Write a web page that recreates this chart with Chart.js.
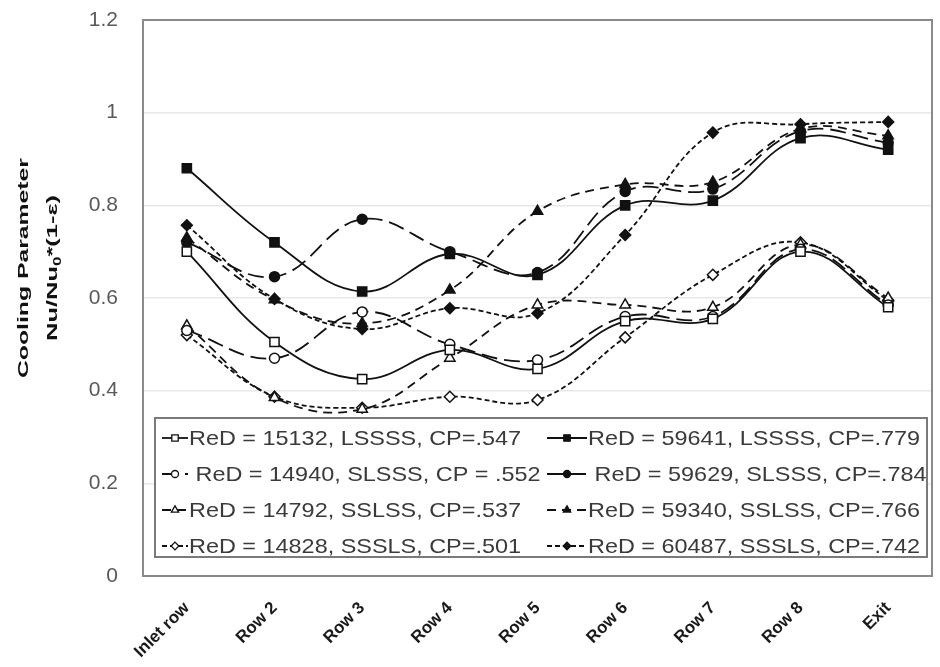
<!DOCTYPE html>
<html>
<head>
<meta charset="utf-8">
<script src="https://cdn.jsdelivr.net/npm/chart.js@4.4.1/dist/chart.umd.min.js"></script>
<style>
  html, body { margin: 0; padding: 0; background: #fff; }
  #wrap { width: 940px; height: 667px; position: relative; }
</style>
</head>
<body>
<div id="wrap"><canvas id="chart"></canvas></div>
<script>
// categories along the tube bank
const rows = ['Inlet row', 'Row 2', 'Row 3', 'Row 4', 'Row 5', 'Row 6', 'Row 7', 'Row 8', 'Exit'];

// low Reynolds number (~15000), open markers
const lowLSSSS = [0.70, 0.505, 0.425, 0.488, 0.447, 0.55, 0.555, 0.70, 0.58];
const lowSLSSS = [0.53, 0.47, 0.57, 0.50, 0.466, 0.56, 0.56, 0.705, 0.585];
const lowSSLSS = [0.54, 0.385, 0.36, 0.47, 0.585, 0.585, 0.58, 0.715, 0.60];
const lowSSSLS = [0.52, 0.387, 0.363, 0.387, 0.38, 0.515, 0.65, 0.72, 0.595];

// high Reynolds number (~60000), filled markers
const highLSSSS = [0.88, 0.72, 0.614, 0.695, 0.65, 0.80, 0.81, 0.945, 0.92];
const highSLSSS = [0.72, 0.646, 0.77, 0.70, 0.655, 0.83, 0.835, 0.96, 0.935];
const highSSLSS = [0.73, 0.596, 0.545, 0.617, 0.787, 0.845, 0.85, 0.965, 0.95];
const highSSSLS = [0.757, 0.598, 0.533, 0.578, 0.567, 0.736, 0.957, 0.975, 0.98];

const seriesLabels = [
  'ReD = 15132, LSSSS, CP=.547',
  ' ReD = 14940, SLSSS, CP = .552',
  'ReD = 14792, SSLSS, CP=.537',
  'ReD = 14828, SSSLS, CP=.501',
  'ReD = 59641, LSSSS, CP=.779',
  ' ReD = 59629, SLSSS, CP=.784',
  'ReD = 59340, SSLSS, CP=.766',
  'ReD = 60487, SSSLS, CP=.742'
];

const yTicks = [0, 0.2, 0.4, 0.6, 0.8, 1, 1.2];

// line style per layout (L position), shared by low and high Re
const styles = [
  { dash: [], point: 'rect', r: 6.5 },
  { dash: [16, 7], point: 'circle', r: 5 },
  { dash: [9, 6], point: 'triangle', r: 6 },
  { dash: [5, 3], point: 'rectRot', r: 5.5 }
];

const allData = [lowLSSSS, lowSLSSS, lowSSLSS, lowSSSLS, highLSSSS, highSLSSS, highSSLSS, highSSSLS];

const datasets = allData.map((d, i) => {
  const st = styles[i % 4];
  const filled = i >= 4;
  return {
    label: seriesLabels[i],
    data: d,
    borderColor: '#111',
    borderWidth: 1.8,
    borderDash: st.dash,
    tension: 0.4,
    fill: false,
    pointStyle: st.point,
    pointRadius: st.r,
    pointBorderWidth: 1.5,
    pointBorderColor: '#111',
    pointBackgroundColor: filled ? '#111' : '#fff'
  };
});

// draws plot frame, the in-plot legend and the two-line y title
const extras = {
  id: 'extras',
  afterDatasetsDraw(chart) {
    const ctx = chart.ctx;
    const a = chart.chartArea;
    ctx.save();

    // frame
    ctx.strokeStyle = '#8a8a8a';
    ctx.lineWidth = 2;
    ctx.setLineDash([]);
    ctx.strokeRect(a.left, a.top, a.right - a.left, a.bottom - a.top);

    // legend box
    const bx = a.left + 12, by = 418, bw = 772, bh = 139;
    ctx.fillStyle = '#fff';
    ctx.fillRect(bx, by, bw, bh);
    ctx.strokeStyle = '#7a7a7a';
    ctx.lineWidth = 2;
    ctx.strokeRect(bx, by, bw, bh);

    ctx.font = '21px "Liberation Sans", Arial, sans-serif';
    const sx = 332 / ctx.measureText(seriesLabels[0]).width;
    chart.data.datasets.forEach((ds, i) => {
      const col = i < 4 ? 0 : 1;
      const row = i % 4;
      const y = 438 + row * 36;
      const x0 = col === 0 ? 162 : 547;
      const w = col === 0 ? 26 : 40;
      const tx = col === 0 ? 189 : 588;

      ctx.strokeStyle = '#111';
      ctx.lineWidth = 1.8;
      ctx.setLineDash(ds.borderDash);
      ctx.beginPath();
      ctx.moveTo(x0, y);
      ctx.lineTo(x0 + w, y);
      ctx.stroke();
      ctx.setLineDash([]);

      ctx.fillStyle = ds.pointBackgroundColor;
      ctx.strokeStyle = '#111';
      ctx.lineWidth = 1.3;
      Chart.helpers.drawPoint(ctx, {
        pointStyle: ds.pointStyle, rotation: 0,
        radius: ds.pointRadius * 0.7, borderWidth: 1.3
      }, x0 + w / 2, y);

      ctx.save();
      ctx.translate(tx, y);
      ctx.scale(sx, 1);
      ctx.fillStyle = '#3a3a3a';
      ctx.textBaseline = 'middle';
      ctx.textAlign = 'left';
      ctx.fillText(ds.label, 0, 1);
      ctx.restore();
    });

    // y axis title (two lines, rotated)
    const cy = 268;
    ctx.fillStyle = '#111';
    ctx.textBaseline = 'middle';
    ctx.font = 'bold 15px "Liberation Sans", Arial, sans-serif';

    ctx.save();
    ctx.translate(24, cy);
    ctx.rotate(-Math.PI / 2);
    const t1 = 'Cooling Parameter';
    const s1 = 220 / ctx.measureText(t1).width;
    ctx.scale(s1, 1);
    ctx.textAlign = 'center';
    ctx.fillText(t1, 0, 0);
    ctx.restore();

    ctx.save();
    ctx.translate(53, cy);
    ctx.rotate(-Math.PI / 2);
    const pA = 'Nu/Nu', pB = '0', pC = '*(1-\u03b5)';
    const wA = ctx.measureText(pA).width;
    const wC = ctx.measureText(pC).width;
    ctx.font = 'bold 10px "Liberation Sans", Arial, sans-serif';
    const wB = ctx.measureText(pB).width;
    const total = wA + wB + wC;
    const s2 = 146 / total;
    ctx.scale(s2, 1);
    let x = -total / 2;
    ctx.textAlign = 'left';
    ctx.font = 'bold 15px "Liberation Sans", Arial, sans-serif';
    ctx.fillText(pA, x, 0);
    x += wA;
    ctx.font = 'bold 10px "Liberation Sans", Arial, sans-serif';
    ctx.fillText(pB, x, 5);
    x += wB;
    ctx.font = 'bold 15px "Liberation Sans", Arial, sans-serif';
    ctx.fillText(pC, x, 0);
    ctx.restore();

    ctx.restore();
  }
};

new Chart(document.getElementById('chart'), {
  type: 'line',
  data: { labels: rows, datasets },
  options: {
    responsive: true,
    maintainAspectRatio: false,
    devicePixelRatio: 1,
    animation: false,
    layout: { padding: { top: 20, right: 5, left: 0, bottom: 0 } },
    plugins: {
      legend: { display: false },
      tooltip: { enabled: false }
    },
    scales: {
      x: {
        offset: true,
        grid: { display: false },
        border: { display: false },
        ticks: {
          autoSkip: false,
          minRotation: 45,
          maxRotation: 45,
          padding: 14,
          color: '#1a1a1a',
          font: { family: '"Liberation Sans", Arial, sans-serif', size: 17, weight: 'bold' }
        },
        afterFit(scale) { scale.height = 91; }
      },
      y: {
        min: 0,
        max: 1.2,
        afterBuildTicks(scale) { scale.ticks = yTicks.map(v => ({ value: v })); },
        grid: { color: '#e8e8e8', lineWidth: 1.5, drawTicks: true, tickLength: 20, tickColor: 'rgba(0,0,0,0)' },
        border: { display: false },
        ticks: {
          padding: 5,
          color: '#595959',
          font: { family: '"Liberation Sans", Arial, sans-serif', size: 21 },
          callback: v => String(Number(v.toFixed(1)))
        },
        afterFit(scale) { scale.width = 143; }
      }
    }
  },
  plugins: [extras]
});
</script>
</body>
</html>
